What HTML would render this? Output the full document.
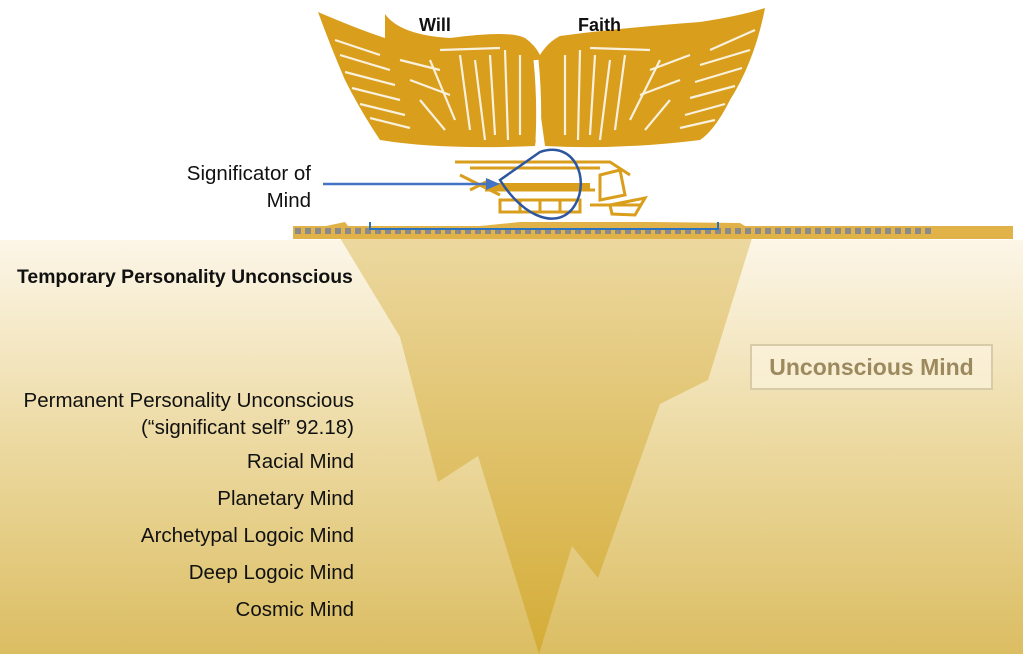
<!DOCTYPE html>
<html><head><meta charset="utf-8"><style>
html,body{margin:0;padding:0;background:#fff}
#c{position:relative;width:1023px;height:654px;overflow:hidden;font-family:"Liberation Sans",sans-serif}
.t{position:absolute;color:#111;font-size:20.5px;white-space:nowrap}
.r{text-align:right;right:669px}
</style></head><body><div id="c">
<svg width="1023" height="654" style="position:absolute;left:0;top:0">
<defs>
<linearGradient id="bg" x1="0" y1="0" x2="0" y2="1">
<stop offset="0" stop-color="#fcf6e8"/><stop offset="0.5" stop-color="#ecd9a0"/><stop offset="1" stop-color="#dbbd62"/></linearGradient>
<linearGradient id="ib" x1="0" y1="0" x2="0" y2="1">
<stop offset="0" stop-color="#ecd8a0"/><stop offset="1" stop-color="#d4ac36"/></linearGradient>
<pattern id="dash" x="295" y="0" width="10" height="10" patternUnits="userSpaceOnUse"><rect x="0" y="0" width="6" height="10" fill="#8a8a8a"/></pattern>
</defs>
<rect x="0" y="240" width="1023" height="414" fill="url(#bg)"/>
<polygon points="340,238 400,337 438,482 478,456 539,654 572,546 598,578 660,404 708,380 752,238" fill="url(#ib)"/>
<path d="M326,226 L345,222 L348,226 L480,226 L520,222 L650,222 L740,223 L745,226 L1013,226 L1013,239 L293,239 L293,226 Z" fill="#e0b248"/>
<rect x="295" y="228" width="640" height="6" fill="url(#dash)"/>
<path d="M370,222 L370,229 L718,229 L718,222" fill="none" stroke="#2b72c0" stroke-width="2"/>
<!-- wings -->
<path d="M318,12 Q360,30 385,38 L385,14 Q400,35 450,38 Q510,30 525,38 Q535,45 540,55 Q548,42 560,36 Q620,28 700,22 Q740,16 765,8 Q755,60 730,100 Q715,130 700,140 Q620,150 545,146 L540,110 L535,146 Q440,150 380,140 Q360,110 345,80 Q330,45 318,12 Z" fill="#d99e1c"/>
<g stroke="#fff" stroke-width="2.2" opacity="0.85" fill="none">
<path d="M335,40 L380,55 M340,55 L390,70 M345,72 L395,85 M352,88 L400,100 M360,104 L405,115 M370,118 L410,128 M400,60 L440,70 M410,80 L450,95 M420,100 L445,130 M430,60 L455,120 M460,55 L470,130 M475,60 L485,140 M490,55 L495,135 M505,50 L508,140 M520,55 L520,135 M440,50 L500,48"/>
<path d="M755,30 L710,50 M750,50 L700,65 M742,68 L695,82 M735,86 L690,98 M725,104 L685,115 M715,120 L680,128 M690,55 L650,70 M680,80 L640,95 M670,100 L645,130 M660,60 L630,120 M625,55 L615,130 M610,60 L600,140 M595,55 L590,135 M580,50 L578,140 M565,55 L565,135 M650,50 L590,48"/>
</g>
<path d="M536,60 Q540,100 538,140" stroke="#fff" stroke-width="5" fill="none"/>
<!-- significator -->
<g fill="none" stroke="#d99e1c" stroke-width="3">
<path d="M455,162 L610,162 L630,175 M470,168 L600,168 M480,185 L590,185 M485,190 L595,190"/>
<path d="M460,175 L500,195 M470,190 L490,180 M500,200 L580,200 L580,212 L500,212 Z M520,200 L520,212 M540,200 L540,212 M560,200 L560,212"/>
<path d="M600,175 L620,170 L625,195 L600,200 Z M610,205 L645,198 L635,215 L612,214 Z M590,205 L640,205"/>
</g>
<rect x="490" y="183" width="100" height="7" fill="#d99e1c"/>
<path d="M500,180 L540,152 C575,140 590,180 575,205 C560,230 525,220 500,180 Z" fill="none" stroke="#2d56a0" stroke-width="2.5"/>
<line x1="323" y1="184" x2="490" y2="184" stroke="#4472c4" stroke-width="2.5"/>
<polygon points="500,184 486,178 486,190" fill="#4472c4"/>
</svg>
<div class="t" style="left:419px;top:15px;font-weight:bold;font-size:18px">Will</div>
<div class="t" style="left:578px;top:15px;font-weight:bold;font-size:18px">Faith</div>
<div class="t" style="right:712px;top:160px;text-align:right;line-height:27px">Significator of<br>Mind</div>
<div class="t" style="left:17px;top:266px;font-weight:bold;font-size:19.4px">Temporary Personality Unconscious</div>
<div class="t r" style="top:387px;line-height:27px">Permanent Personality Unconscious<br>(“significant self” 92.18)</div>
<div class="t r" style="top:450px">Racial Mind</div>
<div class="t r" style="top:487px">Planetary Mind</div>
<div class="t r" style="top:524px">Archetypal Logoic Mind</div>
<div class="t r" style="top:561px">Deep Logoic Mind</div>
<div class="t r" style="top:598px">Cosmic Mind</div>
<div style="position:absolute;left:750px;top:344px;width:243px;height:46px;border:2px solid #d8cba8;box-sizing:border-box;background:rgba(255,250,235,0.5);color:#9c8a5e;font-weight:bold;font-size:23px;text-align:center;line-height:42px">Unconscious Mind</div>
</div></body></html>
